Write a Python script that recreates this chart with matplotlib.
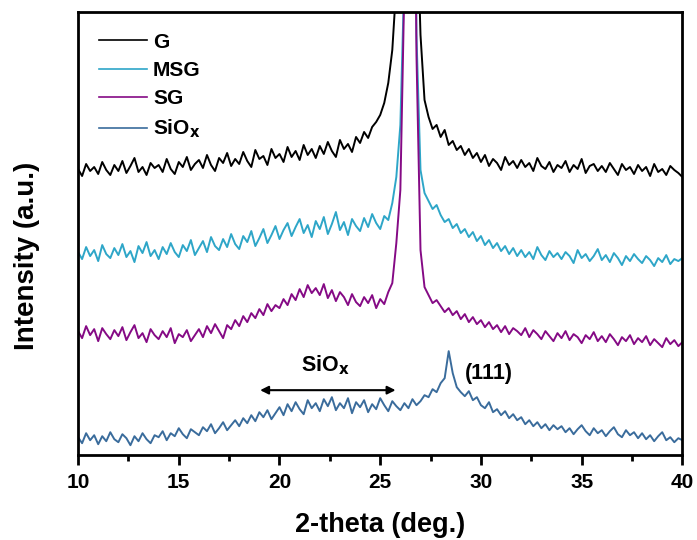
import matplotlib
matplotlib.use('Agg')
import matplotlib.pyplot as plt
import numpy as np

plt.rcParams['font.family'] = ['Liberation Sans', 'DejaVu Sans']
plt.rcParams['font.weight'] = 'bold'
plt.rcParams['mathtext.default'] = 'bf'

# 2-theta grid, 0.2 deg steps, 10..40
two_theta = np.linspace(10, 40, 151)

# intensities (a.u., stacked offsets as drawn)
G = [286, 279, 291, 284, 288, 281, 293, 285, 280, 290,
     284, 294, 282, 289, 297, 283, 288, 280, 292, 287,
     290, 283, 296, 286, 281, 293, 288, 298, 285, 291,
     295, 287, 300, 290, 284, 297, 292, 302, 289, 296,
     291, 303, 294, 288, 305, 296, 299, 290, 306, 297,
     301, 293, 308, 298, 304, 295, 310, 300, 306, 297,
     309, 301, 313, 304, 298, 315, 306, 311, 303, 318,
     312, 323, 317, 328, 333, 340, 352, 372, 405, 470,
     620, 760, 800, 720, 560, 420, 355, 338, 326, 330,
     318, 325, 310, 314, 305, 309, 300, 306, 297, 302,
     293, 300, 289, 296, 292, 285, 298, 290, 294, 287,
     295, 288, 292, 284, 297, 289, 286, 293, 283, 290,
     287, 294, 283, 290, 286, 296, 282, 289, 291, 284,
     289, 283, 292, 286, 280, 291, 285, 288, 281, 290,
     284, 288, 279, 291, 283, 286, 280, 289, 285, 282,
     278]

MSG = [203, 196, 208, 199, 205, 194, 210, 201, 197, 207,
       200, 211, 198, 204, 193, 209, 202, 213, 199, 205,
       196, 208, 201, 212, 203, 198, 210, 204, 215, 200,
       207, 214, 203, 218, 209, 205, 216, 208, 221, 211,
       206, 219, 213, 224, 209, 217, 226, 212, 220, 229,
       216, 225, 232, 219, 228, 236, 222, 230, 218, 234,
       226, 238, 221, 231, 243, 225, 233, 220, 236, 229,
       224, 237, 228, 241, 232, 226, 239, 235, 252, 278,
       330, 480, 900, 880, 420, 285, 262, 254, 246, 250,
       240, 233, 236, 227, 231, 222, 226, 218, 223, 214,
       219, 210, 215, 207, 212, 204, 209, 201, 207, 199,
       205, 198, 203, 196, 208, 200, 195, 204, 198, 202,
       196, 203, 199, 192, 205, 197, 201, 194, 199, 206,
       195, 200, 193, 202, 197, 190, 199, 194, 201, 196,
       192, 199, 195, 189, 197, 193, 200, 191, 196, 194,
       197]

SG = [124, 117, 129, 120, 126, 114, 127, 121, 116, 125,
      119, 128, 115, 123, 130, 117, 122, 113, 126, 120,
      116, 124, 118, 127, 112, 121, 118, 125, 114, 120,
      126, 118, 129, 122, 131, 124, 117, 130, 126, 135,
      129, 139, 133, 142, 137, 146, 140, 151, 144, 150,
      147, 156, 150, 161, 155, 166, 158, 170, 162, 167,
      160, 171, 157, 165, 154, 163, 158, 150, 161, 153,
      149, 158, 152, 160, 147, 156, 151, 163, 172, 212,
      265, 470, 900, 880, 400, 205, 168, 160, 152, 155,
      149, 143, 147, 140, 144, 136, 141, 133, 138, 131,
      135, 128, 133, 126, 130, 123, 129, 121, 127, 124,
      120, 127, 118, 125, 121, 116, 124, 119, 114, 122,
      117, 124, 115, 121, 118, 112, 120, 116, 123, 114,
      119, 113, 121, 116, 110, 118, 114, 120, 111, 117,
      113, 119, 110, 116, 112, 108, 117, 111, 115, 109,
      113]

SiOx = [18, 12, 22, 15, 20, 11, 19, 14, 23, 16,
        13, 21, 17, 10, 19, 14, 22, 16, 12, 20,
        18, 24, 15, 22, 19, 27, 21, 17, 26, 23,
        20, 28, 24, 31, 22, 27, 33, 25, 30, 35,
        29, 37, 32, 40, 34, 43, 38, 45, 36, 42,
        48, 40, 51, 44, 53, 46, 41, 55, 47, 52,
        44, 56, 49, 58, 45, 52, 47, 57, 42, 53,
        48, 55, 43, 51, 46, 57, 50, 44, 54, 49,
        45, 52, 47, 56, 50, 54, 60, 58, 66, 63,
        72, 77, 104, 82, 68, 63, 59, 64, 55, 58,
        50, 47, 53, 43, 46, 40, 44, 37, 41, 35,
        38, 31, 35, 29, 33, 27, 31, 25, 30, 26,
        29, 23, 27, 21, 26, 30, 24, 20, 27, 22,
        25, 19, 24, 28, 21, 18, 25, 20, 23, 17,
        22, 16, 20, 14, 19, 23, 15, 18, 13, 17,
        15]

names = ['G', 'MSG', 'SG', r'SiO$_\mathbf{x}$']
colors = ['black', '#2ea6c8', '#850a85', '#3a6c9c']

fig = plt.figure(figsize=(6.97, 5.40), dpi=100)
ax = fig.add_axes([0.112, 0.157, 0.867, 0.821])

for data, name, c in zip([G, MSG, SG, SiOx], names, colors):
    ax.plot(two_theta, data, color=c, lw=1.4, label=name)

ax.set_xlim(10, 40)
ax.set_ylim(0, 443)
ax.set_xticks([10, 15, 20, 25, 30, 35, 40])
ax.set_xticks(np.arange(12.5, 40, 5), minor=True)
ax.set_yticks([])
ax.tick_params(axis='x', which='major', direction='out', length=7, width=2, labelsize=15, pad=6)
ax.tick_params(axis='x', which='minor', direction='out', length=4, width=2)
for s in ax.spines.values():
    s.set_linewidth(2)

ax.set_xlabel('2-theta (deg.)', fontsize=19.5, fontweight='bold', labelpad=14)
ax.set_ylabel('Intensity (a.u.)', fontsize=20, fontweight='bold')
ax.yaxis.set_label_coords(-0.063, 0.45)

# annotations
ax.annotate('', xy=(18.9, 65), xytext=(25.9, 65),
            arrowprops=dict(arrowstyle='<|-|>', color='black', lw=1.5, mutation_scale=12))
ax.text(22.3, 78, r'SiO$_\mathbf{x}$', fontsize=15.5, fontweight='bold', ha='center', va='bottom')
ax.text(30.4, 82, '(111)', fontsize=15.5, fontweight='bold', ha='center', va='center')

leg = ax.legend(loc='upper left', frameon=False, fontsize=15, handlelength=2.3,
                labelspacing=0.45, borderaxespad=0.6, handletextpad=0.3)
for t, line in zip(leg.get_texts(), leg.get_lines()):
    t.set_fontweight('bold')
    line.set_linewidth(1.2)

fig.savefig('out.png', dpi=100)
